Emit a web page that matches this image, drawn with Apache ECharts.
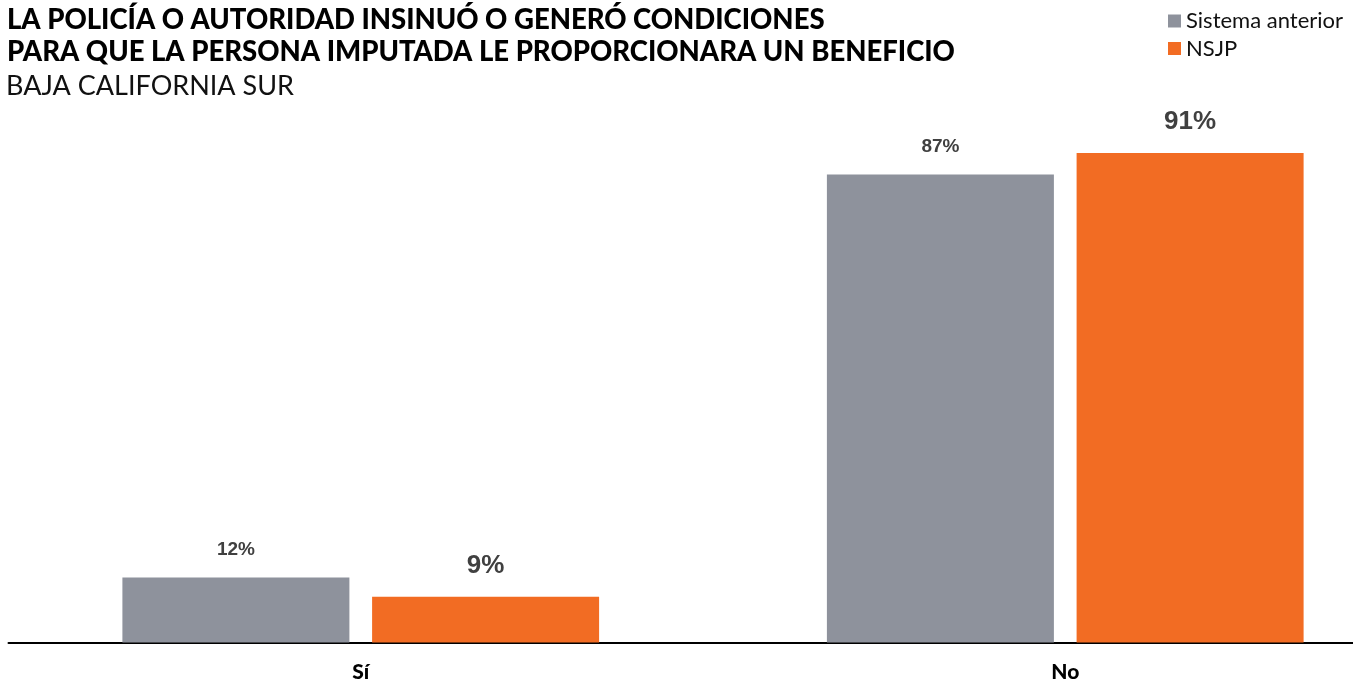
<!DOCTYPE html>
<html>
<head>
<meta charset="utf-8">
<script src="https://cdn.jsdelivr.net/npm/echarts@6/dist/echarts.min.js"></script>
<style>html,body{margin:0;padding:0;background:#fff}#c{width:1353px;height:682px}</style>
</head>
<body>
<div id="c"></div>
<script>
const categories = ['Sí', 'No'];
const seriesNames = ['Sistema anterior', 'NSJP'];
const anteriorValues = [12.1, 87];
const nsjpValues = [8.5, 91];
const titleLines = ['LA POLICÍA O AUTORIDAD INSINUÓ O GENERÓ CONDICIONES', 'PARA QUE LA PERSONA IMPUTADA LE PROPORCIONARA UN BENEFICIO'];
const subtitleText = 'BAJA CALIFORNIA SUR';

const chart = echarts.init(document.getElementById('c'), null, {renderer: 'canvas'});
const pct = p => Math.round(p.value) + '%';
chart.setOption({
  animation: false,
  backgroundColor: '#ffffff',
  title: [
    {text: titleLines.join('\n'), left: 7, top: 4, padding: 0,
     textStyle: {fontFamily: 'Lato', fontWeight: 900, fontSize: 27.5, lineHeight: 32, color: '#000'}},
    {text: subtitleText, left: 6, top: 71, padding: 0,
     textStyle: {fontFamily: 'Lato', fontWeight: 'normal', fontSize: 27, lineHeight: 30, color: '#111'}}
  ],
  legend: {
    orient: 'vertical', left: 1163, top: 5,
    itemWidth: 13, itemHeight: 13, itemGap: 5.5, icon: 'rect',
    textStyle: {fontFamily: 'Lato', fontSize: 22, color: '#111', lineHeight: 22},
    data: seriesNames
  },
  grid: {left: 8.5, width: 1409, top: 104.5, bottom: 39.5, containLabel: false, outerBoundsMode: 'none'},
  xAxis: {
    type: 'category', data: categories,
    axisLine: {show: true, lineStyle: {color: '#000', width: 2}},
    axisTick: {show: false},
    axisLabel: {fontFamily: 'Lato', fontWeight: 900, fontSize: 21, color: '#000', margin: 19}
  },
  yAxis: {type: 'value', min: 0, max: 100, show: false, splitLine: {show: false}},
  series: [
    {name: seriesNames[0], type: 'bar', data: anteriorValues, barWidth: 227, barGap: '10%',
     itemStyle: {color: '#8e929c'},
     label: {show: true, position: 'top', distance: 18, formatter: pct,
             fontFamily: 'Liberation Sans, Arial', fontWeight: 'bold', fontSize: 19, color: '#404040'}},
    {name: seriesNames[1], type: 'bar', data: nsjpValues, barWidth: 227,
     itemStyle: {color: '#f26c23'},
     label: {show: true, position: 'top', distance: 18, formatter: pct,
             fontFamily: 'Liberation Sans, Arial', fontWeight: 'bold', fontSize: 26, color: '#404040'}}
  ]
});
</script>
</body>
</html>
